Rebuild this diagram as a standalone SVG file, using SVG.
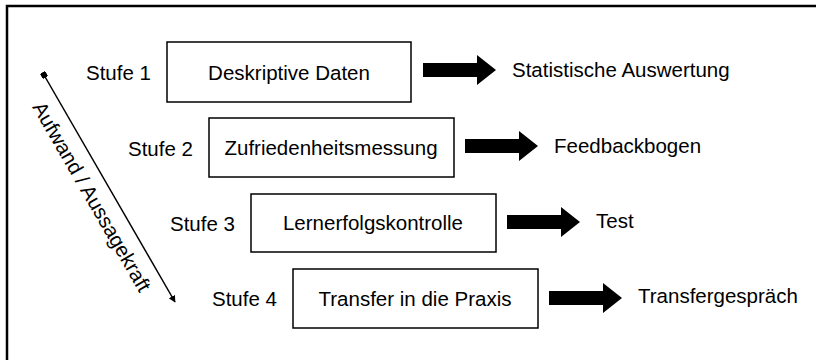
<svg xmlns="http://www.w3.org/2000/svg" width="816" height="360" viewBox="0 0 816 360">
  <style>
    text { font-family: "Liberation Sans", Arial, sans-serif; font-size: 20.5px; fill: #000; }
    .box { fill: #fff; stroke: #000; stroke-width: 1.5; }
    .mid { text-anchor: middle; }
    .block { fill: #000; }
    .axis { stroke: #000; stroke-width: 1.5; fill: none; }
  </style>
  <defs>
    <marker id="tip" viewBox="0 0 10 10" refX="9" refY="5" markerWidth="7" markerHeight="7" markerUnits="userSpaceOnUse" orient="auto">
      <path d="M0,0 L10,5 L0,10 Z" fill="#000"/>
    </marker>
    <marker id="dot" viewBox="0 0 10 10" refX="5" refY="5" markerWidth="6" markerHeight="6" markerUnits="userSpaceOnUse" orient="auto">
      <rect x="0" y="0" width="10" height="10" fill="#000"/>
    </marker>
    <!-- block arrow, origin at shaft start on its centre line -->
    <path id="blockArrow" d="M0,-7 L54,-7 L54,-15 L73,0 L54,15 L54,7 L0,7 Z"/>
  </defs>

  <!-- frame (only top and left edges fall inside the canvas) -->
  <rect x="7" y="6" width="900" height="500" fill="none" stroke="#000" stroke-width="2.5"/>

  <g id="axis">
    <line class="axis" x1="44" y1="75" x2="175" y2="302" marker-start="url(#dot)" marker-end="url(#tip)"/>
    <text transform="translate(32,107) rotate(60)">Aufwand / Aussagekraft</text>
  </g>

  <g id="stufe1">
    <text x="86" y="80">Stufe 1</text>
    <rect class="box" x="167" y="42" width="244" height="60"/>
    <text class="mid" x="289" y="80">Deskriptive Daten</text>
  </g>
  <g id="stufe2">
    <text x="128" y="156">Stufe 2</text>
    <rect class="box" x="209" y="118" width="245" height="59"/>
    <text class="mid" x="331" y="155">Zufriedenheitsmessung</text>
  </g>
  <g id="stufe3">
    <text x="170" y="231">Stufe 3</text>
    <rect class="box" x="251" y="194" width="245" height="58"/>
    <text class="mid" x="373" y="230">Lernerfolgskontrolle</text>
  </g>
  <g id="stufe4">
    <text x="212" y="306">Stufe 4</text>
    <rect class="box" x="293" y="269" width="245" height="59"/>
    <text class="mid" x="415" y="306">Transfer in die Praxis</text>
  </g>

  <g id="connectors">
    <use href="#blockArrow" class="block" transform="translate(423,70)"/>
    <use href="#blockArrow" class="block" transform="translate(465,146)"/>
    <use href="#blockArrow" class="block" transform="translate(507,222)"/>
    <use href="#blockArrow" class="block" transform="translate(549,298)"/>
  </g>

  <g id="ergebnis1"><text x="512" y="77">Statistische Auswertung</text></g>
  <g id="ergebnis2"><text x="554" y="153">Feedbackbogen</text></g>
  <g id="ergebnis3"><text x="596" y="228">Test</text></g>
  <g id="ergebnis4"><text x="638" y="303">Transfergespräch</text></g>
</svg>
